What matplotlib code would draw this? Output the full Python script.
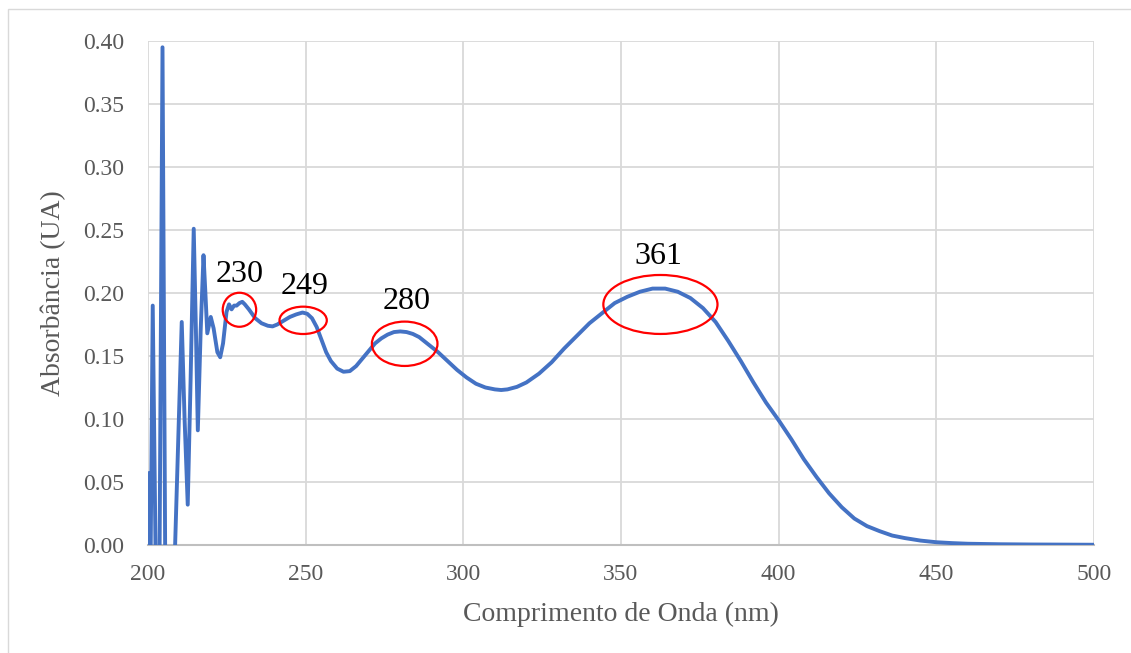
import matplotlib
matplotlib.use("Agg")
import matplotlib.pyplot as plt
from matplotlib.patches import Ellipse, Rectangle

# UV-Vis spectrum (wavelength in nm, absorbance in UA)
wavelength = [
    200.0, 200.7, 201.5, 202.6, 203.5, 204.6, 205.6, 207.5, 208.6,
    210.7, 211.6, 212.6, 213.5, 214.5, 215.2, 215.8, 216.7, 217.6, 218.2,
    218.8, 219.9, 220.8, 222.0, 222.9, 223.8, 224.9, 225.7, 226.5, 227.3,
    228.1, 229.0, 229.9, 230.7, 232.0, 234.0, 236.0, 238.0, 239.5, 241.0,
    243.0, 245.0, 247.0, 249.0, 250.5, 252.0, 253.5, 255.0, 256.5, 258.0,
    260.0, 262.0, 264.0, 266.0, 268.0, 270.0, 272.0, 274.0, 276.0, 278.0,
    280.0, 282.0, 284.0, 286.0, 288.0, 290.0, 292.0, 295.0, 298.0, 301.0,
    304.0, 307.0, 310.0, 312.0, 314.0, 317.0, 320.0, 324.0, 328.0, 332.0,
    336.0, 340.0, 344.0, 348.0, 352.0, 356.0, 360.0, 364.0, 368.0, 372.0,
    376.0, 380.0, 384.0, 388.0, 392.0, 396.0, 400.0, 404.0, 408.0, 412.0,
    416.0, 420.0, 424.0, 428.0, 432.0, 436.0, 440.0, 445.0, 450.0, 455.0,
    460.0, 470.0, 480.0, 490.0, 500.0,
]
absorbance = [
    0.057, -0.05, 0.190, -0.05, -0.08, 0.395, -0.08, -0.03, 0.000,
    0.177, 0.100, 0.032, 0.130, 0.251, 0.170, 0.091, 0.170, 0.230, 0.200,
    0.168, 0.181, 0.172, 0.153, 0.149, 0.160, 0.185, 0.191, 0.187, 0.190,
    0.190, 0.192, 0.193, 0.191, 0.187, 0.180, 0.176, 0.174, 0.1735, 0.175,
    0.178, 0.181, 0.183, 0.1845, 0.1835, 0.180, 0.173, 0.163, 0.153, 0.146,
    0.140, 0.1375, 0.138, 0.142, 0.148, 0.154, 0.160, 0.164, 0.167, 0.169,
    0.1695, 0.169, 0.1675, 0.165, 0.161, 0.157, 0.153, 0.146, 0.139, 0.133,
    0.128, 0.125, 0.1235, 0.123, 0.1235, 0.1255, 0.129, 0.136, 0.145, 0.156,
    0.166, 0.176, 0.184, 0.192, 0.197, 0.201, 0.2035, 0.2035, 0.201, 0.196,
    0.188, 0.177, 0.162, 0.146, 0.129, 0.113, 0.099, 0.084, 0.068, 0.054,
    0.041, 0.030, 0.021, 0.015, 0.011, 0.0075, 0.0055, 0.0035, 0.0022, 0.0015,
    0.0010, 0.0006, 0.0004, 0.0003, 0.0002,
]

# marked peaks: label, label position, ellipse centre and size
peak_labels = ["230", "249", "280", "361"]
label_x = [229.0, 249.8, 282.0, 361.7]
label_y = [0.2143, 0.2052, 0.1929, 0.2286]
ring_x = [229.0, 249.2, 281.4, 362.5]
ring_y = [0.1867, 0.1783, 0.1597, 0.1909]
ring_w = [10.6, 15.0, 20.8, 36.2]
ring_h = [0.027, 0.0217, 0.0352, 0.0468]

x_ticks = [200, 250, 300, 350, 400, 450, 500]
y_ticks = [0.00, 0.05, 0.10, 0.15, 0.20, 0.25, 0.30, 0.35, 0.40]

text_grey = "#595959"
serif = "Liberation Serif"

fig = plt.figure(figsize=(11.31, 6.53), dpi=100)
ax = fig.add_axes([148 / 1131, 108 / 653, 946 / 1131, 504 / 653])

# thin outer frame of the chart area
fig.patches.append(Rectangle((8 / 1131, -0.1), 1.2, 1.1 - 9 / 653 + 0.0,
                             transform=fig.transFigure, fill=False,
                             edgecolor="#d9d9d9", linewidth=1.0))

ax.plot(wavelength, absorbance, color="#4472C4", linewidth=2.8,
        solid_joinstyle="round", zorder=3)

for lab, lx, ly in zip(peak_labels, label_x, label_y):
    ax.text(lx, ly, lab, ha="center", va="center", fontsize=23,
            family=serif, color="black", zorder=5)

for cx, cy, w, h in zip(ring_x, ring_y, ring_w, ring_h):
    ax.add_patch(Ellipse((cx, cy), w, h, fill=False, edgecolor="#ff0000",
                         linewidth=1.6, zorder=4))

ax.set_xlim(200, 500)
ax.set_ylim(0, 0.40)
ax.set_xticks(x_ticks)
ax.set_yticks(y_ticks)
ax.set_yticklabels([f"{v:.2f}" for v in y_ticks])
ax.grid(True, color="#d9d9d9", linewidth=1.3, zorder=0)
ax.set_axisbelow(True)

for side in ["top", "right", "left"]:
    ax.spines[side].set_visible(False)
ax.spines["bottom"].set_color("#bfbfbf")
ax.spines["bottom"].set_linewidth(1.5)

ax.tick_params(axis="both", length=0, labelsize=17, labelcolor=text_grey)
ax.tick_params(axis="y", pad=17)
ax.tick_params(axis="x", pad=14)
for t in ax.get_xticklabels() + ax.get_yticklabels():
    t.set_fontfamily(serif)

ax.set_xlabel("Comprimento de Onda (nm)", fontsize=20, family=serif,
              color=text_grey, labelpad=12)
ax.set_ylabel("Absorbância (UA)", fontsize=20, family=serif,
              color=text_grey, labelpad=12)

fig.savefig("out.png", dpi=100)
